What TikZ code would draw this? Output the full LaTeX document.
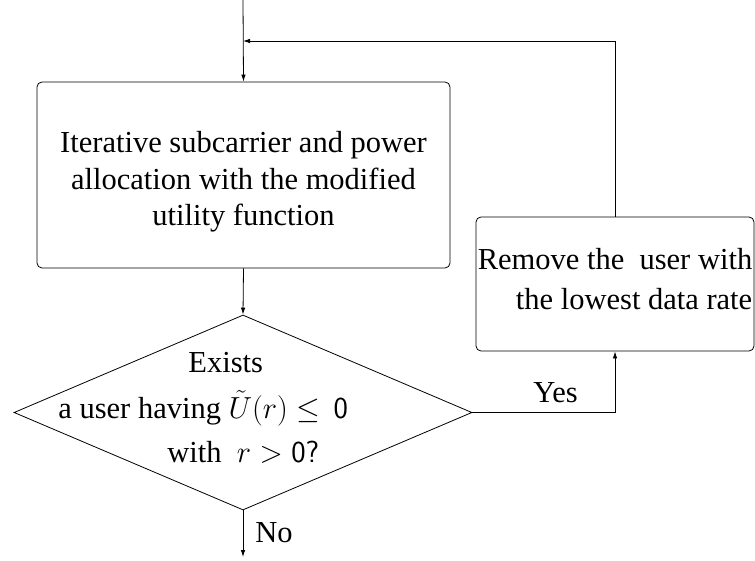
\RequirePackage{fix-cm}
\documentclass[tikz,border=0pt]{standalone}
\usepackage{fontspec}
\setmainfont{Liberation Serif}
\usetikzlibrary{shapes.geometric,arrows.meta}
\begin{document}
\begin{tikzpicture}[x=1pt,y=-1pt,
  line width=0.8pt,
  arr/.style={-{Latex[length=7pt,width=4.5pt]}},
  procbox/.style={draw,rounded corners=5pt,inner sep=0pt},
  txt/.style={inner sep=0pt,anchor=base west},
  every node/.append style={font=\fontsize{30.5}{36.6}\selectfont}]
\useasboundingbox (0,0) rectangle (755,561);
\node[procbox,minimum width=413pt,minimum height=186pt] (main) at (243.5,175) {};
\node[inner sep=0pt,align=center] (maintxt) at (243.5,182)
  {Iterative subcarrier and power\\allocation with the modified\\utility function};
\node[procbox,minimum width=278pt,minimum height=134pt] (rem) at (615,284) {};
\node[inner sep=0pt,align=right] (remtxt) at (615,279)
  {Remove the\ \ user with\\[3.5pt]the lowest data rate};
\node[draw,diamond,inner sep=0pt,minimum width=458pt,minimum height=195pt] (dec) at (243,412.5) {};
\node[txt] (t1) at (188,372) {Exists};
\node[txt] (t2) at (58,418) {a user having $\tilde U(r)\le\,\mathsf{0}$};
\node[txt] (t3) at (167,462) {with\ \ $r>\mathsf{0}$\textsf{?}};
\coordinate (start) at (243,0);
\coordinate (fb) at (243,41);
\coordinate (stop) at (243,557);
\draw[arr] (start) -- (main.north);
\draw[arr] (main.south) -- (dec.north);
\draw[arr] (dec.east) -| (rem.south);
\draw[arr] (rem.north) |- (fb);
\draw[arr] (dec.south) -- (stop);
\node[txt] (yes) at (533,402) {Yes};
\node[txt] (no) at (255,542) {No};
\end{tikzpicture}
\end{document}
